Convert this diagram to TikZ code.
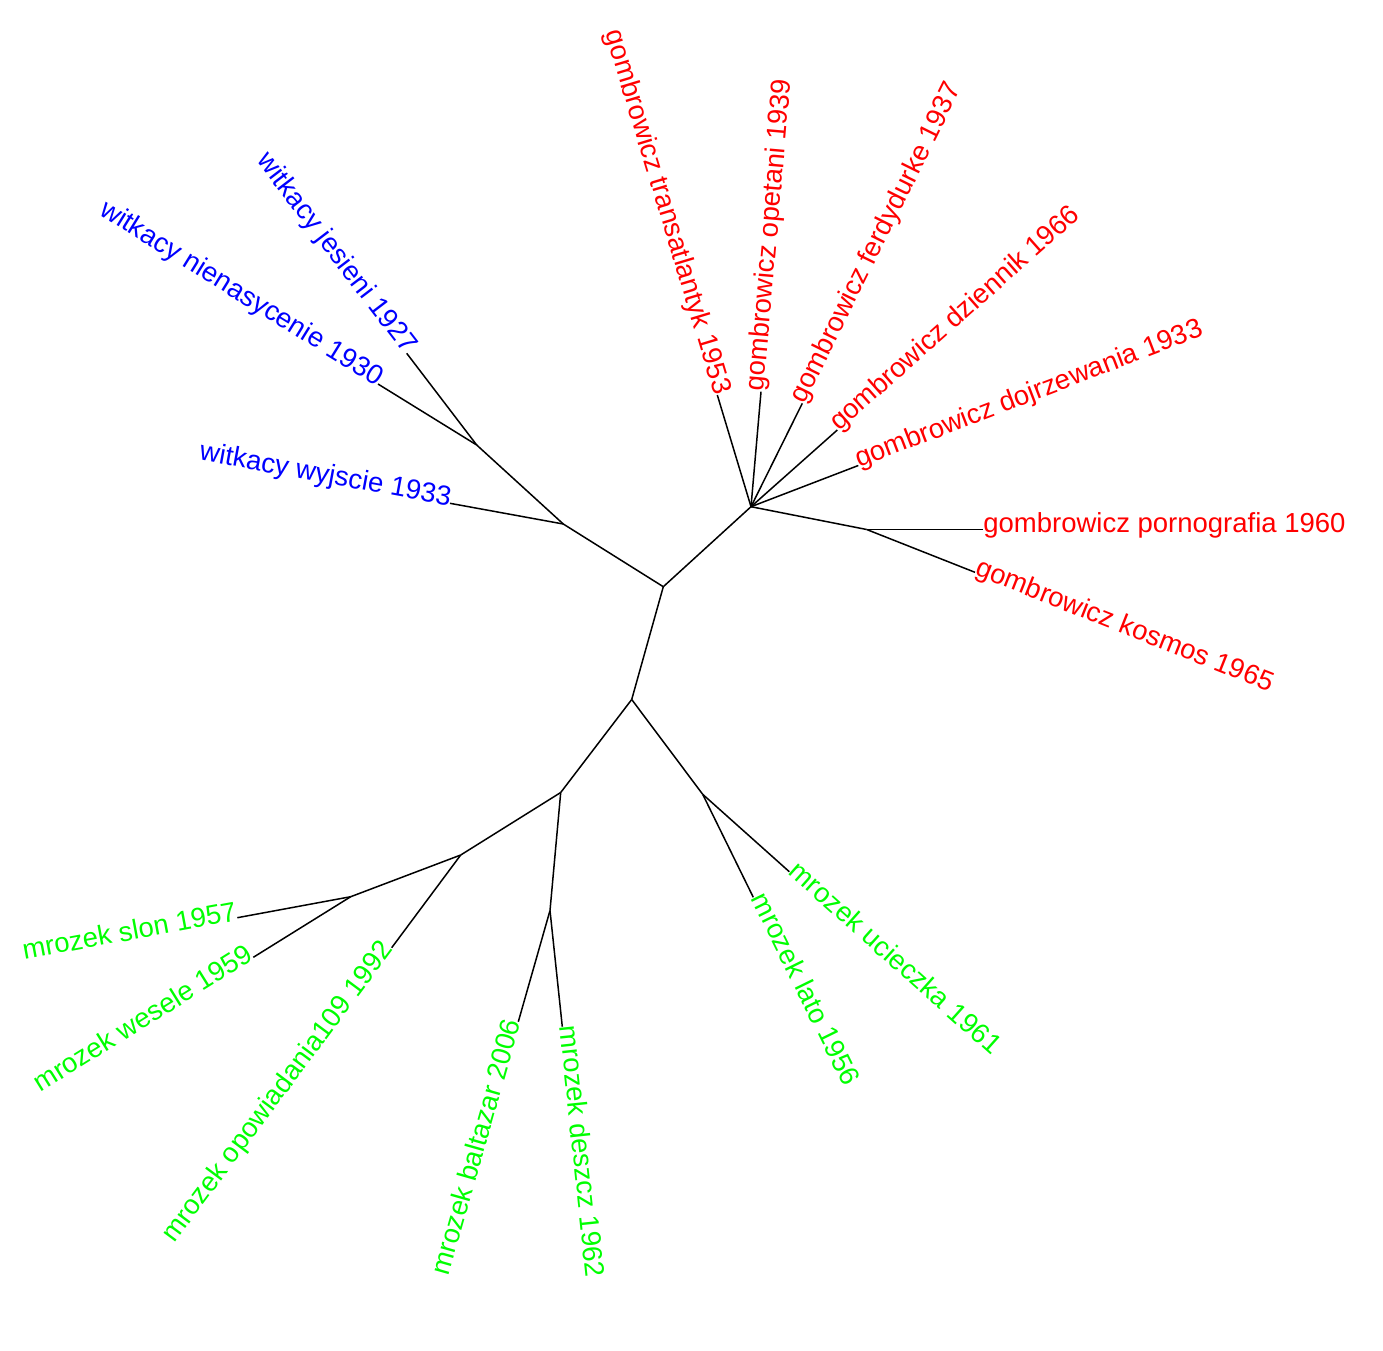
\documentclass[tikz,border=0pt]{standalone}
\usepackage{fontspec}
\setmainfont{Liberation Sans}
\definecolor{rred}{RGB}{255,0,0}
\definecolor{rblue}{RGB}{0,0,255}
\definecolor{rgreen}{RGB}{0,255,0}
\tikzset{
  edge/.style={draw=black,line width=1.5pt},
  lab/.style={inner sep=0pt,outer sep=0pt,font=\fontsize{27.5}{33}\selectfont,text height=0.72em,text depth=0.2em},
  labR/.style={lab,anchor=west},
  labL/.style={lab,anchor=east},
}
\begin{document}
\begin{tikzpicture}[x=1pt,y=-1pt]
\useasboundingbox (0,0) rectangle (1383,1350);
% internal nodes
\coordinate (A) at (663.3,586.7);
\coordinate (B) at (631.7,699.5);
\coordinate (W1) at (563.3,524);
\coordinate (W2) at (476.7,445);
\coordinate (G) at (751,506.7);
\coordinate (G2) at (866.7,529.5);
\coordinate (M1) at (560.7,792.5);
\coordinate (M2) at (460.7,855);
\coordinate (M3) at (350.7,896.7);
\coordinate (M4) at (550,910.5);
\coordinate (M5) at (702.7,794.3);
% tips
\coordinate (tJes) at (406.7,353.3);
\coordinate (tNie) at (378,384);
\coordinate (tWyj) at (450,503.3);
\coordinate (tTra) at (717.3,395);
\coordinate (tOpe) at (761,391.7);
\coordinate (tFer) at (802.3,403.3);
\coordinate (tDzi) at (837.3,430);
\coordinate (tDoj) at (858.3,465.5);
\coordinate (tPor) at (983.3,529.5);
\coordinate (tKos) at (975,572.3);
\coordinate (tUci) at (789.3,871.7);
\coordinate (tLat) at (753.3,897.3);
\coordinate (tBal) at (518.3,1021.7);
\coordinate (tDes) at (562.3,1026.7);
\coordinate (tOpo) at (391.7,947.7);
\coordinate (tSlo) at (237.3,917.7);
\coordinate (tWes) at (253.3,957.3);
% edges
\draw[edge] (A) -- (B);
\draw[edge] (A) -- (W1);
\draw[edge] (W1) -- (W2);
\draw[edge] (W2) -- (tJes);
\draw[edge] (W2) -- (tNie);
\draw[edge] (W1) -- (tWyj);
\draw[edge] (A) -- (G);
\draw[edge] (G) -- (tTra);
\draw[edge] (G) -- (tOpe);
\draw[edge] (G) -- (tFer);
\draw[edge] (G) -- (tDzi);
\draw[edge] (G) -- (tDoj);
\draw[edge] (G) -- (G2);
\draw[edge] (G2) -- (tPor);
\draw[edge] (G2) -- (tKos);
\draw[edge] (B) -- (M1);
\draw[edge] (B) -- (M5);
\draw[edge] (M5) -- (tUci);
\draw[edge] (M5) -- (tLat);
\draw[edge] (M1) -- (M4);
\draw[edge] (M4) -- (tBal);
\draw[edge] (M4) -- (tDes);
\draw[edge] (M1) -- (M2);
\draw[edge] (M2) -- (tOpo);
\draw[edge] (M2) -- (M3);
\draw[edge] (M3) -- (tSlo);
\draw[edge] (M3) -- (tWes);
% labels
\node[labL,text=rblue,rotate=-52.6] (lJes) at (tJes) {witkacy jesieni 1927};
\node[labL,text=rblue,rotate=-31.7] (lNie) at (tNie) {witkacy nienasycenie 1930};
\node[labL,text=rblue,rotate=-10.4] (lWyj) at (tWyj) {witkacy wyjscie 1933};
\node[labL,text=rred,rotate=-73.2] (lTra) at (tTra) {gombrowicz transatlantyk 1953};
\node[labR,text=rred,rotate=85.0] (lOpe) at (tOpe) {gombrowicz opetani 1939};
\node[labR,text=rred,rotate=63.6] (lFer) at (tFer) {gombrowicz ferdydurke 1937};
\node[labR,text=rred,rotate=41.6] (lDzi) at (tDzi) {gombrowicz dziennik 1966};
\node[labR,text=rred,rotate=21.0] (lDoj) at (tDoj) {gombrowicz dojrzewania 1933};
\node[labR,text=rred,rotate=0] (lPor) at (tPor) {gombrowicz pornografia 1960};
\node[labR,text=rred,rotate=-21.6] (lKos) at (tKos) {gombrowicz kosmos 1965};
\node[labR,text=rgreen,rotate=-41.8] (lUci) at (tUci) {mrozek ucieczka 1961};
\node[labR,text=rgreen,rotate=-63.8] (lLat) at (tLat) {mrozek lato 1956};
\node[labL,text=rgreen,rotate=74.1] (lBal) at (tBal) {mrozek baltazar 2006};
\node[labR,text=rgreen,rotate=-84.0] (lDes) at (tDes) {mrozek deszcz 1962};
\node[labL,text=rgreen,rotate=53.3] (lOpo) at (tOpo) {mrozek opowiadania109 1992};
\node[labL,text=rgreen,rotate=10.5] (lSlo) at (tSlo) {mrozek slon 1957};
\node[labL,text=rgreen,rotate=31.9] (lWes) at (tWes) {mrozek wesele 1959};
\end{tikzpicture}
\end{document}
